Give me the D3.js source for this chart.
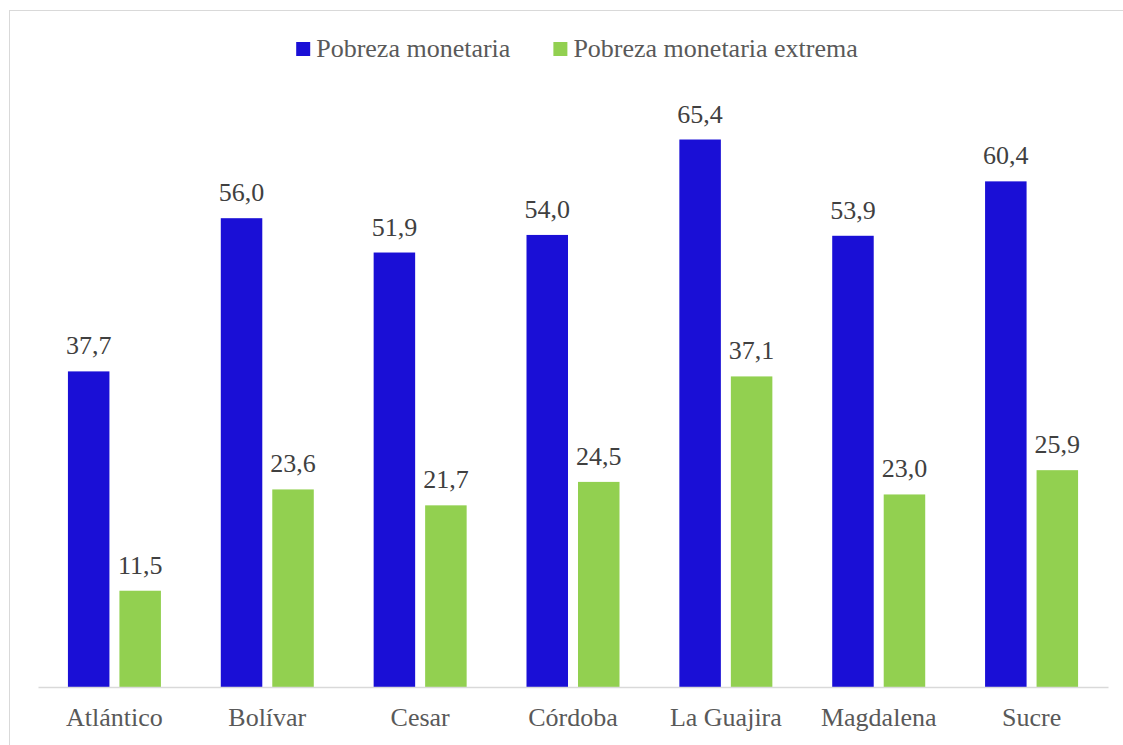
<!DOCTYPE html>
<html>
<head>
<meta charset="utf-8">
<script src="https://cdn.jsdelivr.net/npm/d3@7"></script>
<style>
  body { margin: 0; background: #fff; }
  svg text { font-family: "Liberation Serif", "DejaVu Serif", "Noto Serif", Tinos, "Times New Roman", Times, serif; }
</style>
</head>
<body>
<div id="chart"></div>
<script>
// data
var departamentos = ["Atlántico", "Bolívar", "Cesar", "Córdoba", "La Guajira", "Magdalena", "Sucre"];
var pobreza = [37.7, 56.0, 51.9, 54.0, 65.4, 53.9, 60.4];
var pobrezaExtrema = [11.5, 23.6, 21.7, 24.5, 37.1, 23.0, 25.9];
var seriesNames = ["Pobreza monetaria", "Pobreza monetaria extrema"];
var seriesColors = ["#1a0fd6", "#92d050"];

var serif = "'Liberation Serif', 'DejaVu Serif', 'Noto Serif', Tinos, 'Times New Roman', Times, serif";

var width = 1123, height = 745;
var margin = { top: 101, left: 38, right: 15, bottom: 58 };

var svg = d3.select("#chart").append("svg")
    .attr("width", width)
    .attr("height", height)
    .style("font-family", serif);

// chart frame (runs off the right and bottom edge)
svg.append("rect")
    .attr("x", 9.5)
    .attr("y", 10.5)
    .attr("width", 1140)
    .attr("height", 760)
    .attr("fill", "none")
    .attr("stroke", "#d9d9d9");

// scales
var x0 = d3.scaleBand()
    .domain(departamentos)
    .range([margin.left, width - margin.right]);

var x1 = d3.scaleBand()
    .domain(seriesNames)
    .range([-46.5, 46.5])
    .paddingInner(0.194);

var y = d3.scaleLinear()
    .domain([0, 70])
    .range([height - margin.bottom, margin.top]);

var rows = departamentos.map(function(d, i) {
    return { name: d, values: [pobreza[i], pobrezaExtrema[i]] };
});

// bars
var groups = svg.selectAll(".grupo")
    .data(rows)
    .enter().append("g")
    .attr("class", "grupo")
    .attr("transform", function(d) {
        return "translate(" + (x0(d.name) + x0.bandwidth() / 2) + ",0)";
    });

groups.selectAll("rect")
    .data(function(d) {
        return d.values.map(function(v, j) { return { s: seriesNames[j], v: v, j: j }; });
    })
    .enter().append("rect")
    .attr("x", function(d) { return x1(d.s); })
    .attr("y", function(d) { return y(d.v); })
    .attr("width", x1.bandwidth())
    .attr("height", function(d) { return y(0) - y(d.v); })
    .attr("fill", function(d) { return seriesColors[d.j]; });

// data labels
groups.selectAll(".valor")
    .data(function(d) {
        return d.values.map(function(v, j) { return { s: seriesNames[j], v: v }; });
    })
    .enter().append("text")
    .attr("class", "valor")
    .attr("x", function(d) { return x1(d.s) + x1.bandwidth() / 2; })
    .attr("y", function(d) { return y(d.v) - 17; })
    .attr("text-anchor", "middle")
    .style("font-family", serif)
    .attr("font-size", 26)
    .attr("fill", "#404040")
    .text(function(d) { return d.v.toFixed(1).replace(".", ","); });

// x axis
var xAxis = d3.axisBottom(x0)
    .tickSizeInner(0)
    .tickSizeOuter(0)
    .tickPadding(21);

var gx = svg.append("g")
    .attr("transform", "translate(0," + y(0) + ")")
    .call(xAxis);

gx.select(".domain").attr("stroke", "#d9d9d9").attr("stroke-width", 1.5);
gx.selectAll("text")
    .style("font-family", serif)
    .attr("font-size", 26)
    .attr("fill", "#595959");

// legend
var legend = svg.append("g");
var lx = 0;
seriesNames.forEach(function(name, i) {
    var item = legend.append("g").attr("transform", "translate(" + lx + ",0)");
    item.append("rect")
        .attr("x", 0)
        .attr("y", -15)
        .attr("width", 14)
        .attr("height", 14)
        .attr("fill", seriesColors[i]);
    var t = item.append("text")
        .attr("x", 20)
        .attr("y", 0)
        .style("font-family", serif)
        .attr("font-size", 26)
        .attr("fill", "#595959")
        .text(name);
    lx += 20 + t.node().getComputedTextLength() + 43;
});
var legendWidth = lx - 43;
legend.attr("transform", "translate(" + (577 - legendWidth / 2) + ",57)");
</script>
</body>
</html>
